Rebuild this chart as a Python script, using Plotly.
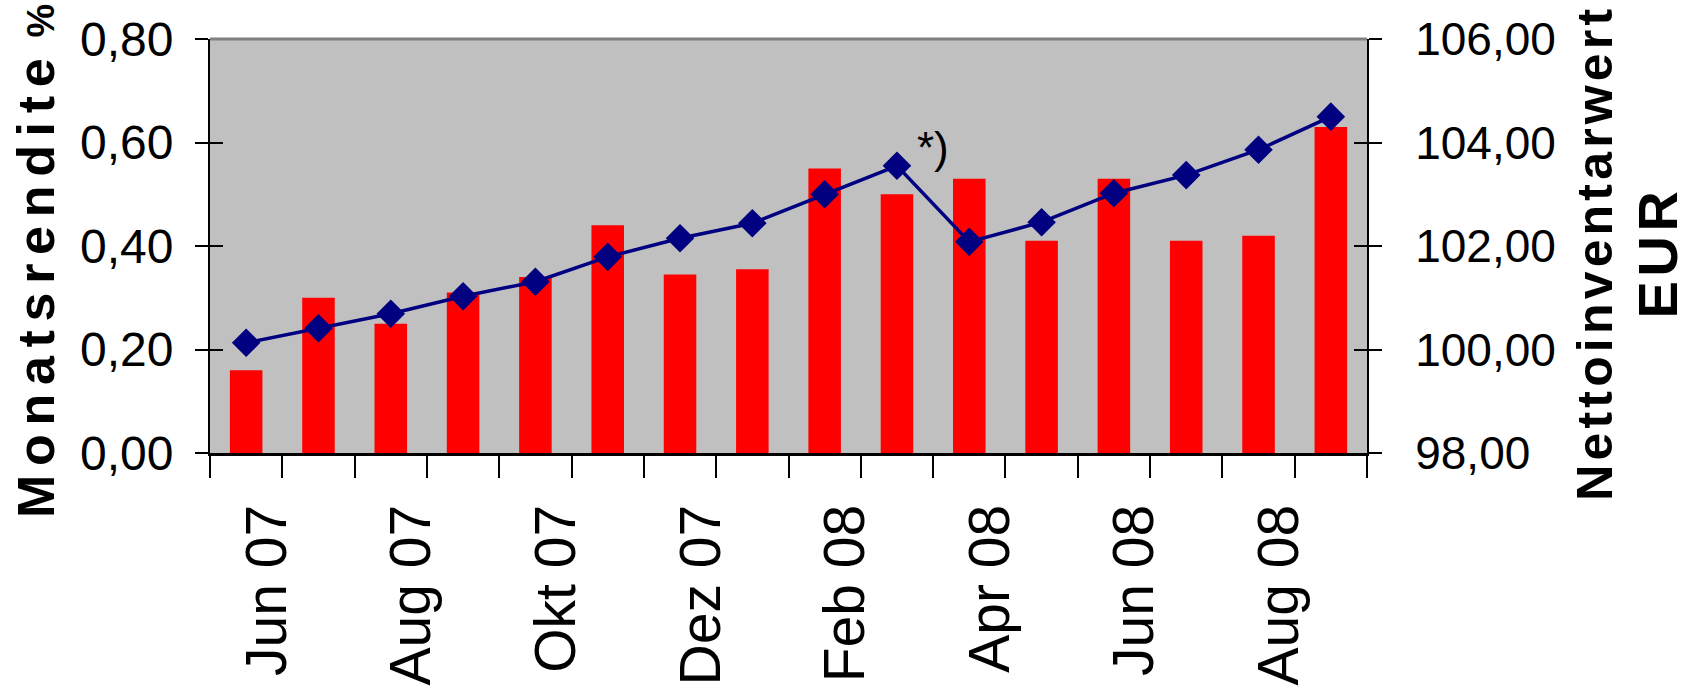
import plotly.graph_objects as go

# Monthly data, June 2007 - September 2008
months = ["Jun 07", "Jul 07", "Aug 07", "Sep 07", "Okt 07", "Nov 07", "Dez 07", "Jan 08",
          "Feb 08", "Mrz 08", "Apr 08", "Mai 08", "Jun 08", "Jul 08", "Aug 08", "Sep 08"]
# Monatsrendite in %
returns = [0.16, 0.30, 0.25, 0.31, 0.34, 0.44, 0.345, 0.355,
           0.55, 0.50, 0.53, 0.41, 0.53, 0.41, 0.42, 0.63]
# Nettoinventarwert in EUR
nav = [100.13, 100.41, 100.69, 101.03, 101.31, 101.79, 102.15, 102.44,
       103.00, 103.55, 102.08, 102.46, 103.02, 103.37, 103.86, 104.50]
# only every second month gets a label
tick_text = [m if i % 2 == 0 else "" for i, m in enumerate(months)]

BASE = "Liberation Sans, Arial, sans-serif"
HAIR = "\u200a"
THIN = "\u2009"


def spaced(word, gap=HAIR):
    return gap.join(word)


fig = go.Figure()

fig.add_trace(go.Bar(
    x=months, y=returns, marker=dict(color="#ff0000", line=dict(width=0)),
    yaxis="y", showlegend=False, name="Monatsrendite",
))
fig.add_trace(go.Scatter(
    x=months, y=nav, mode="lines+markers", yaxis="y2", showlegend=False,
    line=dict(color="#000080", width=3.5),
    marker=dict(symbol="diamond", size=22, color="#000080"),
    name="Nettoinventarwert",
))
# carrier traces for the inner halves of the crossing y-axis ticks
fig.add_trace(go.Scatter(x=months, y=returns, yaxis="y3", mode="lines", opacity=0,
                         line=dict(width=0), hoverinfo="skip", showlegend=False))
fig.add_trace(go.Scatter(x=months, y=nav, yaxis="y4", mode="lines", opacity=0,
                         line=dict(width=0), hoverinfo="skip", showlegend=False))

fig.add_annotation(
    x=9.5, y=103.9, xref="x", yref="y2", text="*)", showarrow=False,
    font=dict(family=BASE, size=44, color="black"), xanchor="center", yanchor="middle",
)

# axis titles
fig.add_annotation(
    x=-0.15, y=0.465, xref="paper", yref="paper", textangle=-90,
    text=spaced("Monatsrendite", HAIR * 2) + THIN * 2
    + '<span style="font-size:38px">%</span>',
    showarrow=False, font=dict(family=BASE, size=52, color="black", weight="bold"),
    xanchor="center", yanchor="middle",
)
fig.add_annotation(
    x=1.226, y=0.48, xref="paper", yref="paper", textangle=-90,
    text=spaced("Nettoinventarwert") + "<br>" + '<span style="font-size:56px">'
    + spaced("EUR") + "</span>",
    showarrow=False, font=dict(family=BASE, size=50, color="black", weight="bold"),
    xanchor="center", yanchor="middle",
)

# grey upper frame line of the plot area
fig.add_shape(type="line", xref="paper", yref="paper", x0=0, x1=1, y0=1, y1=1,
              line=dict(color="#808080", width=3))

fig.update_layout(
    width=1692, height=699,
    margin=dict(l=210, r=325, t=39, b=246),
    paper_bgcolor="white", plot_bgcolor="#c0c0c0",
    separators=",.",
    bargap=0.55,
    font=dict(family=BASE, color="black"),
    xaxis=dict(
        type="category", range=[-0.5, 15.5],
        tickmode="array", tickvals=months, ticktext=tick_text,
        tickson="boundaries", ticks="outside", ticklen=22, tickwidth=2, tickcolor="black",
        tickangle=-90, tickfont=dict(family=BASE, size=57, color="black"),
        ticklabelstandoff=26, ticklabelshift=21,
        showline=True, linecolor="black", linewidth=3, showgrid=False, zeroline=False,
    ),
    yaxis=dict(
        range=[0, 0.8], tickmode="linear", tick0=0, dtick=0.2, tickformat=".2f",
        ticks="outside", ticklen=13, tickwidth=2, tickcolor="black",
        tickfont=dict(family=BASE, size=48, color="black"), ticklabelstandoff=12,
        showline=True, linecolor="black", linewidth=2, showgrid=False, zeroline=False,
    ),
    yaxis2=dict(
        range=[98, 106], tickmode="linear", tick0=98, dtick=2, tickformat=".2f",
        overlaying="y", side="right",
        ticks="outside", ticklen=13, tickwidth=2, tickcolor="black",
        tickfont=dict(family=BASE, size=46, color="black"), ticklabelstandoff=24,
        showline=True, linecolor="black", linewidth=2, showgrid=False, zeroline=False,
    ),
    yaxis3=dict(
        range=[0, 0.8], tickmode="linear", tick0=0, dtick=0.2, overlaying="y", side="left",
        ticks="inside", ticklen=13, tickwidth=2, tickcolor="black",
        showticklabels=False, showline=False, showgrid=False, zeroline=False,
    ),
    yaxis4=dict(
        range=[98, 106], tickmode="linear", tick0=98, dtick=2, overlaying="y", side="right",
        ticks="inside", ticklen=13, tickwidth=2, tickcolor="black",
        showticklabels=False, showline=False, showgrid=False, zeroline=False,
    ),
)

fig.write_html("out.html")
